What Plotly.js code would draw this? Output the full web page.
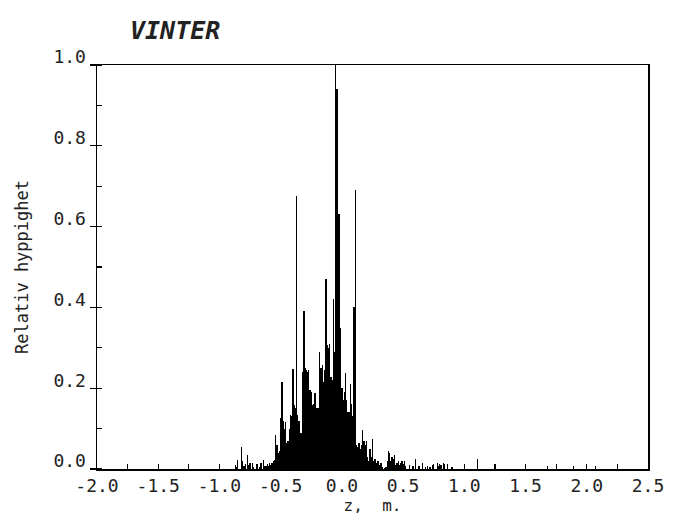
<!DOCTYPE html>
<html>
<head>
<meta charset="utf-8">
<script src="https://cdn.plot.ly/plotly-3.0.1.min.js"></script>
<style>html,body{margin:0;padding:0;background:#fff}#chart{width:674px;height:522px}</style>
</head>
<body>
<div id="chart"></div>
<script>
// Sparse bars left of the core (z in m, relative frequency)
var zLeft = [-0.87, -0.86, -0.85, -0.82, -0.81, -0.80, -0.79, -0.77, -0.76, -0.75, -0.73, -0.72, -0.70, -0.69, -0.67, -0.66, -0.64, -0.63, -0.62, -0.61];
var hLeft = [0.010, 0.006, 0.022, 0.055, 0.020, 0.008, 0.012, 0.035, 0.010, 0.015, 0.015, 0.006, 0.012, 0.012, 0.006, 0.015, 0.022, 0.008, 0.008, 0.012];

// Dense core, 0.01 m bins
var zCore = [-0.60, -0.59, -0.58, -0.57, -0.56, -0.55, -0.54, -0.53, -0.52, -0.51,
             -0.50, -0.49, -0.48, -0.47, -0.46, -0.45, -0.44, -0.43, -0.42, -0.41,
             -0.40, -0.39, -0.38, -0.37, -0.36, -0.35, -0.34, -0.33, -0.32, -0.31,
             -0.30, -0.29, -0.28, -0.27, -0.26, -0.25, -0.24, -0.23, -0.22, -0.21,
             -0.20, -0.19, -0.18, -0.17, -0.16, -0.15, -0.14, -0.13, -0.12, -0.11,
             -0.10, -0.09, -0.08, -0.07, -0.06, -0.05, -0.04, -0.03, -0.02, -0.01,
              0.00,  0.01,  0.02,  0.03,  0.04,  0.05,  0.06,  0.07,  0.08,  0.09,
              0.10,  0.11,  0.12,  0.13,  0.14,  0.15,  0.16,  0.17,  0.18,  0.19,
              0.20,  0.21,  0.22,  0.23,  0.24,  0.25,  0.26,  0.27,  0.28,  0.29,
              0.30,  0.31,  0.32,  0.33,  0.34,  0.35,  0.36,  0.37,  0.38,  0.39,
              0.40,  0.41,  0.42,  0.43,  0.44,  0.45,  0.46,  0.47,  0.48,  0.49,
              0.50,  0.51,  0.52];
var hCore = [0.008, 0.015, 0.010, 0.015, 0.020, 0.022, 0.084, 0.060, 0.040, 0.045,
             0.126, 0.215, 0.120, 0.100, 0.116, 0.064, 0.070, 0.100, 0.134, 0.130,
             0.248, 0.158, 0.150, 0.675, 0.134, 0.120, 0.089, 0.090, 0.240, 0.390,
             0.250, 0.245, 0.240, 0.245, 0.195, 0.190, 0.158, 0.160, 0.188, 0.150,
             0.150, 0.150, 0.290, 0.250, 0.257, 0.215, 0.245, 0.470, 0.307, 0.300,
             0.310, 0.228, 0.220, 0.420, 0.290, 1.000, 0.940, 0.630, 0.630, 0.350,
             0.200, 0.170, 0.190, 0.237, 0.170, 0.140, 0.140, 0.210, 0.160, 0.130,
             0.400, 0.690, 0.060, 0.055, 0.065, 0.050, 0.060, 0.097, 0.070, 0.060,
             0.070, 0.030, 0.020, 0.050, 0.030, 0.075, 0.020, 0.025, 0.015, 0.020,
             0.020, 0.010, 0.015, 0.005, 0.000, 0.003, 0.005, 0.020, 0.045, 0.040,
             0.020, 0.030, 0.025, 0.035, 0.010, 0.015, 0.020, 0.010, 0.015, 0.020,
             0.010, 0.020, 0.008];

// Sparse bars right of the core
var zRight = [0.55, 0.58, 0.60, 0.63, 0.66, 0.68, 0.70, 0.72, 0.74, 0.78, 0.79, 0.80, 0.81, 0.83, 0.84, 0.86, 0.90, 1.11, 1.68, 1.89, 2.07];
var hRight = [0.010, 0.008, 0.025, 0.008, 0.015, 0.006, 0.008, 0.006, 0.010, 0.015, 0.008, 0.013, 0.010, 0.015, 0.012, 0.013, 0.005, 0.025, 0.007, 0.007, 0.007];

var xTickVals = [-2.0, -1.5, -1.0, -0.5, 0.0, 0.5, 1.0, 1.5, 2.0, 2.5];
var xTickText = ['-2.0', '-1.5', '-1.0', '-0.5', '0.0', '0.5', '1.0', '1.5', '2.0', '2.5'];
var yTickVals = [0.0, 0.2, 0.4, 0.6, 0.8, 1.0];
var yTickText = ['0.0', '0.2', '0.4', '0.6', '0.8', '1.0'];

var zAll = zLeft.concat(zCore, zRight);
var hAll = hLeft.concat(hCore, hRight);

var mono = 'DejaVu Sans Mono, Liberation Mono, monospace';
var ink = '#222';

var trace = {
  type: 'bar',
  x: zAll,
  y: hAll,
  width: 0.0105,
  marker: {color: '#000', line: {width: 0}},
  hoverinfo: 'x+y'
};

var layout = {
  width: 674, height: 522,
  margin: {l: 97, r: 26, t: 65, b: 53},
  paper_bgcolor: '#fff', plot_bgcolor: '#fff',
  showlegend: false,
  font: {family: mono, color: ink, size: 18},
  title: {
    text: 'VINTER',
    font: {family: mono, size: 25, weight: 'bold', style: 'italic', color: ink},
    xref: 'container', yref: 'container',
    x: 130 / 674, xanchor: 'left',
    y: 1 - 30 / 522, yanchor: 'middle'
  },
  xaxis: {
    range: [-2.0, 2.5],
    tickmode: 'array', tickvals: xTickVals, ticktext: xTickText,
    ticks: 'inside', ticklen: 5, tickwidth: 1.2, tickcolor: '#000',
    minor: {dtick: 0.25, tick0: 0, ticks: 'inside', ticklen: 5, tickwidth: 1.2, tickcolor: '#000', showgrid: false},
    showgrid: false, zeroline: false,
    showline: true, linecolor: '#000', linewidth: 1.5, mirror: true,
    tickfont: {family: mono, size: 18, color: ink},
    title: {text: 'z,  m.', font: {family: mono, size: 16, color: ink}, standoff: 4}
  },
  yaxis: {
    range: [0, 1.0],
    tickmode: 'array', tickvals: yTickVals, ticktext: yTickText,
    ticks: 'outside', ticklen: 6, tickwidth: 1.2, tickcolor: '#000',
    minor: {dtick: 0.1, tick0: 0.1, ticks: 'inside', ticklen: 5, tickwidth: 1.2, tickcolor: '#000', showgrid: false},
    ticklabelshift: -8, ticklabelstandoff: 0,
    showgrid: false, zeroline: false,
    showline: true, linecolor: '#000', linewidth: 1.5, mirror: true,
    tickfont: {family: mono, size: 18, color: ink},
    title: {text: 'Relativ hyppighet', font: {family: mono, size: 17, color: ink}, standoff: 20}
  },
  bargap: 0
};

Plotly.newPlot('chart', [trace], layout, {displayModeBar: false, staticPlot: true});
</script>
</body>
</html>
